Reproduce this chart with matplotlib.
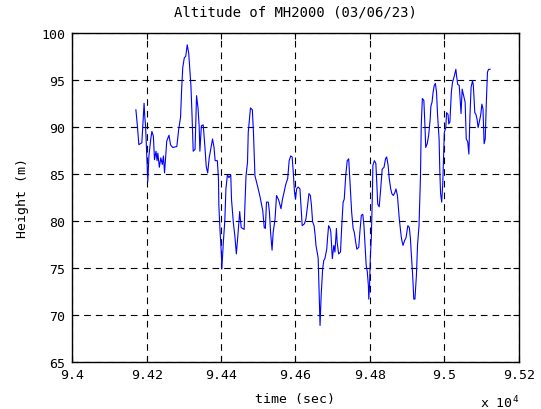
import matplotlib
matplotlib.use("Agg")
import matplotlib.pyplot as plt

plt.rcParams['font.family'] = ['DejaVu Sans Mono']
plt.rcParams['mathtext.fontset'] = 'custom'
plt.rcParams['mathtext.rm'] = 'DejaVu Sans Mono'

# Altitude log of MH2000, time in seconds of day
time_s = [
    94171, 94175, 94179, 94187, 94193, 94195, 94197, 94203, 94206, 94211,
    94214, 94218, 94221, 94225, 94228, 94230, 94234, 94238, 94242, 94245,
    94248, 94254, 94260, 94264, 94270, 94281, 94286, 94291, 94294, 94297,
    94301, 94305, 94309, 94313, 94316, 94319, 94322, 94325, 94330, 94334,
    94338, 94341, 94343, 94347, 94352, 94357, 94360, 94364, 94368, 94375,
    94377, 94381, 94384, 94390, 94393, 94394, 94397, 94401, 94402, 94406,
    94410, 94413, 94417, 94421, 94426, 94428, 94433, 94437, 94441, 94445,
    94447, 94450, 94454, 94462, 94464, 94467, 94471, 94473, 94477, 94479,
    94484, 94487, 94491, 94498,
    94505, 94512, 94516, 94519, 94522, 94527, 94530, 94533, 94537, 94540,
    94545, 94549, 94555, 94561, 94565, 94571, 94574, 94579, 94583, 94587,
    94591, 94594, 94597, 94600, 94603, 94607, 94612, 94616, 94618, 94624,
    94628, 94633, 94636, 94640, 94643, 94646, 94650, 94653, 94655, 94660,
    94661, 94663, 94666, 94669, 94671, 94673, 94676, 94679, 94684, 94686,
    94689, 94693, 94695, 94699, 94703, 94706, 94710, 94712, 94716, 94721,
    94724, 94728, 94731, 94735, 94739, 94743, 94745, 94748, 94751, 94755,
    94758, 94762, 94765, 94770, 94773, 94777, 94781, 94784, 94787, 94790,
    94793, 94796, 94797, 94799, 94801, 94804, 94807, 94808, 94812, 94816,
    94818, 94821, 94825, 94829, 94833, 94838, 94842, 94845, 94849, 94852,
    94856, 94859, 94863, 94867, 94870, 94874, 94879,
    94884, 94886, 94889, 94893, 94897, 94902, 94906, 94909, 94911, 94915,
    94918, 94921, 94925, 94928, 94932, 94936, 94938, 94941, 94945, 94948,
    94950, 94954, 94958, 94962, 94964, 94967, 94970, 94973, 94976, 94979,
    94982, 94986, 94988, 94990, 94993, 94996, 94998, 95000, 95004, 95006,
    95010, 95012, 95015, 95019, 95022, 95027, 95031, 95033, 95036, 95040,
    95042, 95045, 95048, 95052, 95056, 95059, 95063, 95066, 95069, 95072,
    95076, 95078, 95082, 95085, 95088, 95091, 95094, 95098, 95101, 95104,
    95107, 95110, 95113, 95116, 95119, 95123,
]

height_m = [
    91.8, 90.1, 88.1, 88.3, 92.5, 91.0, 90.1, 84.2, 86.9, 88.7,
    89.5, 89.0, 86.5, 87.4, 86.4, 87.2, 85.7, 86.7, 86.0, 86.9,
    85.1, 88.5, 89.1, 88.1, 87.8, 87.9, 89.7, 91.0, 94.0, 96.3,
    97.3, 97.5, 98.7, 97.8, 96.1, 94.3, 91.1, 87.4, 87.6, 93.3,
    92.0, 90.1, 87.4, 90.1, 90.2, 87.6, 85.8, 85.1, 86.7, 88.3,
    88.7, 87.8, 86.4, 86.4, 84.4, 81.6, 79.1, 76.3, 74.9, 77.7,
    80.0, 83.4, 84.9, 84.6, 84.9, 82.3, 79.8, 78.4, 76.5, 78.4,
    79.5, 81.0, 79.3, 79.1, 81.6, 84.8, 86.2, 89.4, 91.1, 92.0,
    91.8, 89.4, 84.8, 83.7,
    82.5, 81.1, 79.3, 79.2, 82.0, 82.0, 80.9, 78.8, 76.9, 78.8,
    80.2, 82.7, 82.2, 81.3, 82.3, 83.4, 83.9, 84.5, 86.4, 86.9,
    86.8, 85.2, 83.2, 82.3, 83.4, 83.6, 83.4, 80.9, 79.5, 79.7,
    80.2, 81.8, 82.9, 82.7, 81.6, 79.9, 79.5, 78.4, 77.4, 76.3,
    76.0, 73.1, 68.9, 72.1, 73.5, 74.9, 75.8, 76.0, 77.0, 78.1,
    79.5, 79.2, 78.8, 76.0, 77.4, 76.7, 79.2, 77.7, 76.5, 76.7,
    79.2, 82.0, 82.3, 84.8, 86.4, 86.6, 85.2, 83.1, 80.9, 79.2,
    78.8, 77.7, 77.0, 77.2, 78.8, 80.6, 80.7, 79.5, 77.4, 75.3,
    74.6, 73.1, 71.7, 73.1, 76.0, 78.4, 83.4, 85.9, 86.4, 86.1,
    84.5, 81.8, 81.5, 83.4, 85.5, 85.7, 86.6, 86.8, 85.9, 84.5,
    83.4, 82.9, 82.7, 83.0, 83.4, 82.7, 80.2,
    78.4, 77.9, 77.4, 77.9, 78.2, 79.5, 79.3, 78.1, 76.7, 74.2,
    71.7, 71.7, 74.2, 77.4, 79.5, 84.8, 90.1, 93.0, 92.8, 90.1,
    87.8, 88.2, 89.1, 90.8, 92.2, 92.6, 93.7, 94.4, 94.6, 93.7,
    91.2, 88.7, 85.2, 82.9, 82.0, 84.1, 86.6, 89.4, 89.9, 91.5,
    91.3, 90.3, 90.5, 93.7, 94.7, 95.4, 96.1, 95.4, 94.5, 94.4,
    93.3, 91.4, 94.0, 93.3, 92.6, 88.7, 88.4, 87.1, 91.2, 94.2,
    94.9, 94.4, 91.5, 91.3, 90.8, 89.9, 90.5, 91.3, 92.4, 91.9,
    88.2, 88.7, 92.6, 95.8, 96.1, 96.1,
]

x_ticks = [94000, 94200, 94400, 94600, 94800, 95000, 95200]
x_tick_labels = ['9.4', '9.42', '9.44', '9.46', '9.48', '9.5', '9.52']
y_ticks = [65, 70, 75, 80, 85, 90, 95, 100]

fig = plt.figure(figsize=(5.41, 4.10), dpi=100)
ax = fig.add_axes([0.1336, 0.1141, 0.8252, 0.804])
ax.plot(time_s, height_m, color='#0000ff', linewidth=0.8)

ax.set_xlim(x_ticks[0], x_ticks[-1])
ax.set_ylim(y_ticks[0], y_ticks[-1])
ax.set_xticks(x_ticks)
ax.set_xticklabels(x_tick_labels)
ax.set_yticks(y_ticks)
ax.set_axisbelow(True)
ax.grid(True, color='black', linestyle=(0, (6, 4.5)), linewidth=0.8)
ax.tick_params(direction='in', top=True, right=True, length=4, width=0.8,
               labelsize=9.5, colors='black')
ax.tick_params(axis='x', pad=4)
ax.tick_params(axis='y', pad=5)
for sp in ax.spines.values():
    sp.set_linewidth(1.0)

ax.set_title('Altitude of MH2000 (03/06/23)', fontsize=10, pad=12)
ax.set_xlabel('time (sec)', fontsize=9.5, labelpad=8)
ax.set_ylabel('Height (m)', fontsize=9.5, labelpad=9)
ax.text(1.0, -0.095, r'x 10$^{4}$', transform=ax.transAxes,
        ha='right', va='top', fontsize=9.5)

fig.savefig('out.png', dpi=100)
